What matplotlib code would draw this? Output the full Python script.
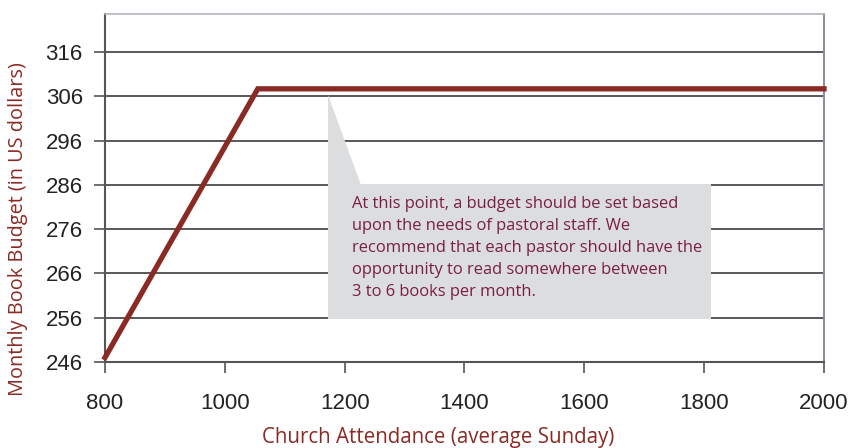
import matplotlib
matplotlib.use("Agg")
import matplotlib.pyplot as plt
from matplotlib.patches import Polygon, Rectangle

attendance = [800, 1055, 2000]
budget = [247, 307.7, 307.7]
yticks = [246, 256, 266, 276, 286, 296, 306, 316]
xticks = [800, 1000, 1200, 1400, 1600, 1800, 2000]
note = ("At this point, a budget should be set based\n"
        "upon the needs of pastoral staff. We\n"
        "recommend that each pastor should have the\n"
        "opportunity to read somewhere between\n"
        "3 to 6 books per month.")

fig = plt.figure(figsize=(8.53, 4.48), dpi=100)
ax = fig.add_axes([105/853, 1-362/448, (824-105)/853, (362-14)/448])
ax.set_xlim(800, 2000)
ax.set_ylim(246, 324.6)

for y in yticks:
    ax.axhline(y, color='#3c3c3c', lw=1.2, zorder=1)

# callout
box_col = '#dcdddf'
ax.add_patch(Rectangle((1172, 255.8), 1812-1172, 286.2-255.8, facecolor=box_col,
                       edgecolor='none', zorder=2))
ax.add_patch(Polygon([(1172, 306.2), (1172, 286), (1228, 286)], closed=True,
                     facecolor=box_col, edgecolor='none', zorder=2))
ax.text(1212, 283.6, note, ha='left', va='top', fontsize=11.9, color='#7a2040',
        family='Open Sans', linespacing=1.52, zorder=3)

ax.plot(attendance, budget, color='#8b2a24', lw=3.8, solid_joinstyle='miter', zorder=4,
        clip_on=False)

ax.set_xticks(xticks)
ax.set_yticks(yticks)
ax.tick_params(axis='both', direction='out', length=8, width=1.2, color='#555555',
               labelsize=16, labelcolor='#222222')
ax.tick_params(axis='x', pad=14)
ax.tick_params(axis='y', pad=8)
for lbl in ax.get_xticklabels() + ax.get_yticklabels():
    lbl.set_family('Liberation Sans')

for s in ['left', 'bottom']:
    ax.spines[s].set_color('#555555')
    ax.spines[s].set_linewidth(1.5)
ax.spines['right'].set_color('#8a9099')
ax.spines['right'].set_linewidth(1.5)
ax.spines['top'].set_color('#b0b5ba')
ax.spines['top'].set_linewidth(1.2)

fig.text(18/853, 1-229/448, 'Monthly Book Budget (in US dollars)', rotation=90,
         ha='center', va='center', fontsize=14.3, color='#8b2a24', family='Open Sans')
fig.text(438/853, 1-437/448, 'Church Attendance (average Sunday)',
         ha='center', va='center', fontsize=14.8, color='#8b2a24', family='Open Sans')

fig.savefig('out.png', dpi=100)
